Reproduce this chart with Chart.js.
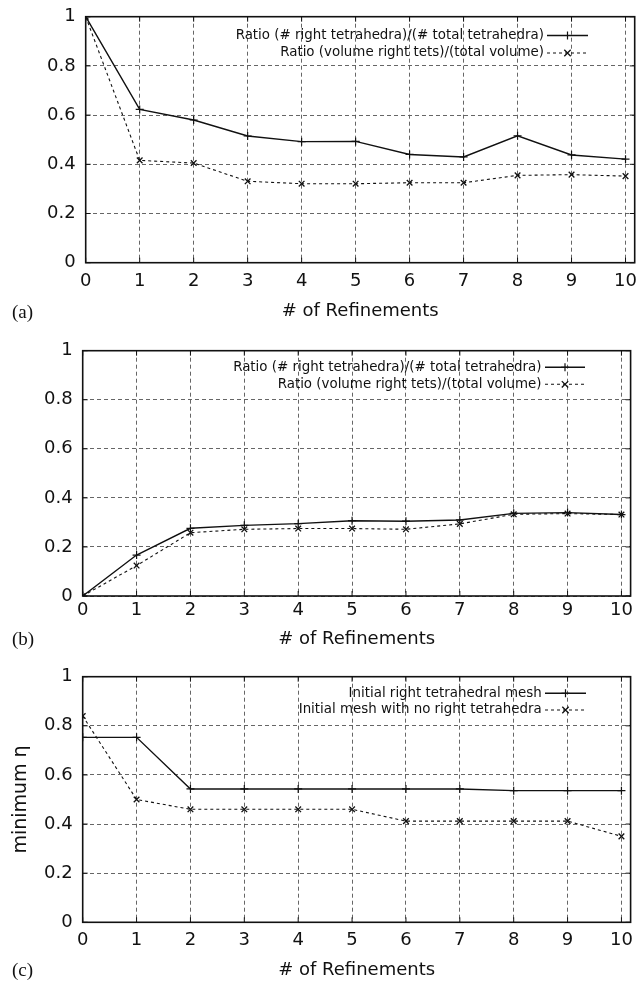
<!DOCTYPE html>
<html><head><meta charset="utf-8">
<script src="https://cdn.jsdelivr.net/npm/chart.js@4.4.1/dist/chart.umd.min.js"></script>
<style>
html,body{margin:0;padding:0;background:#fff;}
#wrap{position:relative;width:640px;height:983px;overflow:hidden;background:#fff;}
canvas{position:absolute;left:0;}
.lab{position:absolute;left:12px;font-family:"Liberation Serif","Times New Roman",serif;font-size:19px;color:#111;line-height:19px;}
</style></head><body>
<div id="wrap">
<canvas id="ca" width="640" height="330" style="top:0px;width:640px;height:330px"></canvas>
<canvas id="cb" width="640" height="325" style="top:330px;width:640px;height:325px"></canvas>
<canvas id="cc" width="640" height="328" style="top:655px;width:640px;height:328px"></canvas>
<div class="lab" style="top:302px">(a)</div>
<div class="lab" style="top:629px">(b)</div>
<div class="lab" style="top:960px">(c)</div>
</div>
<script>
// ---- data ----
const refinements = [0, 1, 2, 3, 4, 5, 6, 7, 8, 9, 10];
const xTicks = [0, 1, 2, 3, 4, 5, 6, 7, 8, 9, 10];
const yTicks = [0, 0.2, 0.4, 0.6, 0.8, 1];
const yTickLabels = ['0', '0.2', '0.4', '0.6', '0.8', '1'];
const xAxisTitle = '# of Refinements';
const yAxisTitleC = 'minimum η';

const labelsAB = ['Ratio (# right tetrahedra)/(# total tetrahedra)', 'Ratio (volume right tets)/(total volume)'];
const labelsC = ['Initial right tetrahedral mesh', 'Initial mesh with no right tetrahedra'];

const ratioCountA = [1.0, 0.623, 0.58, 0.515, 0.492, 0.493, 0.44, 0.43, 0.516, 0.438, 0.421];
const ratioVolA   = [1.0, 0.416, 0.405, 0.331, 0.321, 0.321, 0.325, 0.325, 0.355, 0.358, 0.352];
const ratioCountB = [0, 0.167, 0.276, 0.288, 0.295, 0.307, 0.305, 0.31, 0.337, 0.34, 0.332];
const ratioVolB   = [0, 0.124, 0.258, 0.272, 0.275, 0.275, 0.272, 0.294, 0.333, 0.336, 0.332];
const minEtaRight   = [0.753, 0.753, 0.543, 0.543, 0.543, 0.543, 0.543, 0.543, 0.536, 0.536, 0.536];
const minEtaNoRight = [0.84, 0.5, 0.46, 0.46, 0.46, 0.46, 0.412, 0.412, 0.412, 0.412, 0.35];

const FONT = '"DejaVu Sans", "Liberation Sans", Arial, sans-serif';
const INK = '#111';

function pts(vals) { return refinements.map((x, i) => ({ x: x, y: vals[i] })); }

function line(ctx, x1, y1, x2, y2) { ctx.beginPath(); ctx.moveTo(x1, y1); ctx.lineTo(x2, y2); ctx.stroke(); }

function marker(ctx, style, x, y, r) {
  ctx.beginPath();
  if (style === 'cross') {
    ctx.moveTo(x - r, y); ctx.lineTo(x + r, y);
    ctx.moveTo(x, y - r); ctx.lineTo(x, y + r);
  } else {
    const d = r * 0.8;
    ctx.moveTo(x - d, y - d); ctx.lineTo(x + d, y + d);
    ctx.moveTo(x - d, y + d); ctx.lineTo(x + d, y - d);
  }
  ctx.stroke();
}

const gpFrame = {
  id: 'gpFrame',
  beforeDatasetsDraw(chart) {
    const { ctx, chartArea: ca, scales: { x, y } } = chart;
    ctx.save();
    ctx.setLineDash([]);
    ctx.strokeStyle = INK;
    ctx.lineWidth = 1;
    const tl = 5;
    x.ticks.forEach(t => {
      const px = x.getPixelForValue(t.value);
      line(ctx, px, ca.bottom, px, ca.bottom - tl);
      line(ctx, px, ca.top, px, ca.top + tl);
    });
    y.ticks.forEach(t => {
      const py = y.getPixelForValue(t.value);
      line(ctx, ca.left, py, ca.left + tl, py);
      line(ctx, ca.right, py, ca.right - tl, py);
    });
    ctx.lineWidth = 1.6;
    ctx.strokeRect(ca.left, ca.top, ca.right - ca.left, ca.bottom - ca.top);
    ctx.restore();
  },
  afterDraw(chart, args, o) {
    const { ctx } = chart;
    ctx.save();
    ctx.font = o.fontSize + 'px ' + FONT;
    ctx.textAlign = 'right';
    ctx.textBaseline = 'middle';
    ctx.fillStyle = '#111';
    chart.data.datasets.forEach((ds, i) => {
      const yy = o.ys[i];
      ctx.fillText(ds.label, o.xEnd, yy);
      ctx.strokeStyle = ds.borderColor;
      ctx.lineWidth = ds.borderWidth;
      ctx.setLineDash(ds.borderDash || []);
      line(ctx, o.x1, yy, o.x2, yy);
      ctx.setLineDash([]);
      ctx.lineWidth = ds.pointBorderWidth;
      marker(ctx, ds.pointStyle, (o.x1 + o.x2) / 2, yy, ds.pointRadius);
    });
    ctx.restore();
  }
};

function makeChart(id, cfg) {
  const datasets = [
    { label: cfg.labels[0], data: pts(cfg.s1), borderColor: INK, borderWidth: 1.4,
      pointStyle: 'cross', pointRadius: 4, pointBorderWidth: 1.2, pointBorderColor: INK, pointBackgroundColor: INK, tension: 0, fill: false },
    { label: cfg.labels[1], data: pts(cfg.s2), borderColor: INK, borderWidth: 1.1, borderDash: [3, 3],
      pointStyle: 'crossRot', pointRadius: 4, pointBorderWidth: 1.3, pointBorderColor: INK, pointBackgroundColor: INK, tension: 0, fill: false }
  ];
  return new Chart(document.getElementById(id), {
    type: 'line',
    data: { datasets: datasets },
    plugins: [gpFrame],
    options: {
      responsive: false,
      animation: false,
      events: [],
      layout: { padding: { left: 0, top: cfg.top, right: cfg.right, bottom: 0 } },
      plugins: {
        legend: { display: false },
        tooltip: { enabled: false },
        gpFrame: cfg.legend
      },
      scales: {
        x: {
          type: 'linear', min: 0, max: 10.17,
          afterBuildTicks: s => { s.ticks = xTicks.map(v => ({ value: v })); },
          afterFit: s => { s.height = cfg.xh; s.paddingLeft = 0; s.paddingRight = 0; },
          ticks: { autoSkip: false, maxRotation: 0, padding: cfg.xpad, color: '#111', font: { family: FONT, size: 18 },
                   callback: (v, i) => String(xTicks[i]) },
          grid: { color: '#555', lineWidth: 0.9, drawTicks: false, borderDash: [4, 3] },
          border: { display: false, dash: [4, 3] },
          title: { display: true, text: xAxisTitle, color: '#111', font: { family: FONT, size: 18 }, padding: { top: 0, bottom: cfg.tpad } }
        },
        y: {
          type: 'linear', min: 0, max: 1,
          afterBuildTicks: s => { s.ticks = yTicks.map(v => ({ value: v })); },
          afterFit: s => { s.width = cfg.left; s.paddingTop = 0; s.paddingBottom = 0; },
          ticks: { padding: 10, color: '#111', font: { family: FONT, size: 18 },
                   callback: (v, i) => yTickLabels[i] },
          grid: { color: '#555', lineWidth: 0.9, drawTicks: false, borderDash: [4, 3] },
          border: { display: false, dash: [4, 3] },
          title: cfg.ytitle ? { display: true, text: cfg.ytitle, color: '#111', font: { family: FONT, size: 19 }, padding: { top: 10, bottom: 0 } } : { display: false }
        }
      }
    }
  });
}

makeChart('ca', { labels: labelsAB, s1: ratioCountA, s2: ratioVolA,
  top: 16.7, right: 5, left: 85.7, xh: 67.3, xpad: 8, tpad: 7.5,
  legend: { fontSize: 13.4, xEnd: 544, x1: 547, x2: 588, ys: [35.5, 53] } });
makeChart('cb', { labels: labelsAB, s1: ratioCountB, s2: ratioVolB,
  top: 20.7, right: 9.4, left: 82.7, xh: 59, xpad: 3.5, tpad: 5.2,
  legend: { fontSize: 13.4, xEnd: 541.5, x1: 545, x2: 585, ys: [37.3, 54.3] } });
makeChart('cc', { labels: labelsC, s1: minEtaRight, s2: minEtaNoRight,
  top: 21.7, right: 9.4, left: 82.7, xh: 60.7, xpad: 7.4, tpad: 2.2, ytitle: yAxisTitleC,
  legend: { fontSize: 13.4, xEnd: 541.7, x1: 545, x2: 586, ys: [38.3, 55] } });
</script>
</body></html>
